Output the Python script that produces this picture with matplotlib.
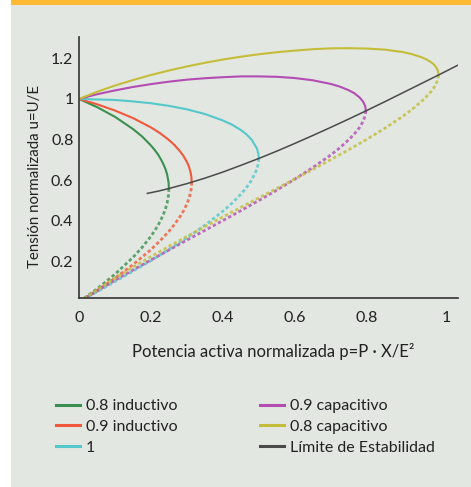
import matplotlib
matplotlib.use("Agg")
import matplotlib.pyplot as plt
from matplotlib.patches import Rectangle
from matplotlib.transforms import ScaledTranslation

plt.rcParams['font.family'] = ['Lato', 'DejaVu Sans']

# --- data: p (x) and u (y), upper branch solid, lower dashed ---
p_up_08ind = [0, 0.05, 0.1, 0.15, 0.175, 0.2, 0.21, 0.22, 0.228, 0.235, 0.241, 0.245, 0.249, 0.25]
u_up_08ind = [1.0, 0.960, 0.912, 0.852, 0.816, 0.771, 0.750, 0.726, 0.702, 0.678, 0.652, 0.629, 0.590, 0.559]
p_lo_08ind = [0.25, 0.249, 0.245, 0.241, 0.235, 0.228, 0.22, 0.21, 0.2, 0.175, 0.15, 0.1, 0.05, 0]
u_lo_08ind = [0.559, 0.527, 0.487, 0.462, 0.433, 0.406, 0.379, 0.350, 0.324, 0.268, 0.220, 0.137, 0.065, 0]

p_up_09ind = [0, 0.05, 0.1, 0.15, 0.2, 0.225, 0.25, 0.265, 0.28, 0.29, 0.3, 0.305, 0.31, 0.3125, 0.3134]
u_up_09ind = [1.0, 0.974, 0.943, 0.906, 0.860, 0.832, 0.798, 0.774, 0.744, 0.721, 0.690, 0.670, 0.641, 0.617, 0.590]
p_lo_09ind = [0.3134, 0.3125, 0.31, 0.305, 0.3, 0.29, 0.28, 0.265, 0.25, 0.225, 0.2, 0.15, 0.1, 0.05, 0]
u_lo_09ind = [0.590, 0.563, 0.537, 0.506, 0.483, 0.447, 0.418, 0.381, 0.348, 0.301, 0.258, 0.184, 0.118, 0.057, 0]

p_up_1 = [0, 0.1, 0.15, 0.2, 0.25, 0.3, 0.35, 0.4, 0.425, 0.45, 0.465, 0.48, 0.495, 0.499, 0.5]
u_up_1 = [1.0, 0.995, 0.988, 0.979, 0.966, 0.949, 0.926, 0.894, 0.874, 0.847, 0.827, 0.800, 0.755, 0.729, 0.707]
p_lo_1 = [0.5, 0.499, 0.495, 0.48, 0.465, 0.45, 0.425, 0.4, 0.35, 0.3, 0.25, 0.2, 0.15, 0.1, 0]
u_lo_1 = [0.707, 0.684, 0.655, 0.600, 0.562, 0.531, 0.486, 0.447, 0.378, 0.316, 0.259, 0.204, 0.152, 0.101, 0]

p_up_09cap = [0, 0.05, 0.1, 0.15, 0.2, 0.25, 0.3, 0.35, 0.4, 0.45, 0.5, 0.55, 0.6, 0.65,
              0.7, 0.725, 0.75, 0.765, 0.78, 0.79, 0.796, 0.7977]
u_up_09cap = [1.0, 1.023, 1.042, 1.059, 1.073, 1.085, 1.095, 1.102, 1.107, 1.111, 1.111, 1.109, 1.103, 1.092,
              1.074, 1.061, 1.043, 1.029, 1.008, 0.987, 0.964, 0.942]
p_lo_09cap = [0.7977, 0.796, 0.79, 0.78, 0.765, 0.75, 0.725, 0.7, 0.65, 0.6, 0.55, 0.5, 0.45,
              0.4, 0.35, 0.3, 0.25, 0.2, 0.15, 0.1, 0.05, 0]
u_lo_09cap = [0.942, 0.918, 0.889, 0.859, 0.826, 0.799, 0.759, 0.724, 0.662, 0.605, 0.551, 0.500, 0.450,
              0.401, 0.353, 0.305, 0.256, 0.207, 0.158, 0.107, 0.054, 0]

p_up_08cap = [0, 0.05, 0.1, 0.15, 0.2, 0.25, 0.3, 0.35, 0.4, 0.45, 0.5, 0.55, 0.6, 0.65, 0.7, 0.75,
              0.8, 0.85, 0.9, 0.925, 0.95, 0.965, 0.98, 0.99, 0.998, 1.0]
u_up_08cap = [1.0, 1.035, 1.066, 1.093, 1.118, 1.140, 1.160, 1.178, 1.194, 1.208, 1.220, 1.230, 1.238, 1.245, 1.249, 1.250,
              1.248, 1.243, 1.231, 1.221, 1.207, 1.196, 1.180, 1.164, 1.140, 1.118]
p_lo_08cap = [1.0, 0.998, 0.99, 0.98, 0.965, 0.95, 0.925, 0.9, 0.85, 0.8, 0.75, 0.7, 0.65, 0.6,
              0.55, 0.5, 0.45, 0.4, 0.35, 0.3, 0.25, 0.2, 0.15, 0.1, 0.05, 0]
u_lo_08cap = [1.118, 1.095, 1.064, 1.038, 1.009, 0.984, 0.947, 0.914, 0.855, 0.801, 0.750, 0.701, 0.653, 0.606,
              0.559, 0.513, 0.466, 0.419, 0.372, 0.323, 0.274, 0.224, 0.172, 0.117, 0.060, 0]

p_limit = [0.19, 0.22, 0.25, 0.3, 0.35, 0.4, 0.45, 0.5, 0.55, 0.6, 0.65, 0.7, 0.75,
           0.8, 0.85, 0.9, 0.95, 1.0, 1.07]
u_limit = [0.535, 0.546, 0.559, 0.583, 0.610, 0.640, 0.673, 0.707, 0.743, 0.781, 0.820, 0.860, 0.901,
           0.943, 0.986, 1.030, 1.074, 1.118, 1.181]

x_ticks = [0, 0.2, 0.4, 0.6, 0.8, 1]
x_ticklabels = ['0', '0.2', '0.4', '0.6', '0.8', '1']
y_ticks = [0.2, 0.4, 0.6, 0.8, 1, 1.2]
y_ticklabels = ['0.2', '0.4', '0.6', '0.8', '1', '1.2']

curves = [
    ('0.8 inductivo', '#3a9050', p_up_08ind, u_up_08ind, p_lo_08ind, u_lo_08ind),
    ('0.9 inductivo', '#f05a3a', p_up_09ind, u_up_09ind, p_lo_09ind, u_lo_09ind),
    ('1', '#55c8cb', p_up_1, u_up_1, p_lo_1, u_lo_1),
    ('0.9 capacitivo', '#b34db3', p_up_09cap, u_up_09cap, p_lo_09cap, u_lo_09cap),
    ('0.8 capacitivo', '#c4bd3a', p_up_08cap, u_up_08cap, p_lo_08cap, u_lo_08cap),
]

W, H = 471, 487
fig = plt.figure(figsize=(W / 100, H / 100), dpi=100, facecolor='white')

# panel background and top orange band
fig.patches.append(Rectangle((11 / W, 0), 1 - 11 / W, 1 - 5 / H, transform=fig.transFigure,
                             facecolor='#e2e7e1', edgecolor='none', zorder=-10))
fig.patches.append(Rectangle((11 / W, 1 - 5 / H), 1 - 11 / W, 5 / H, transform=fig.transFigure,
                             facecolor='#fdb933', edgecolor='none', zorder=-10))

ax = fig.add_axes([79 / W, 1 - 298 / H, (458 - 79) / W, (298 - 37) / H])
ax.set_facecolor('none')

for label, col, pu, uu, pl, ul in curves:
    ax.plot(pl, ul, color=col, lw=2.0, alpha=0.8, linestyle=(0, (1.2, 0.9)), solid_capstyle='butt')
for label, col, pu, uu, pl, ul in curves:
    ax.plot(pu, uu, color=col, lw=1.5, label=label)

ax.plot(p_limit, u_limit, color='#4a4a4a', lw=1.1, label='Límite de Estabilidad')

ax.set_xlim(0, 1.054)
ax.set_ylim(0.02, 1.305)

ax.set_xticks(x_ticks)
ax.set_xticklabels(x_ticklabels)
ax.set_yticks(y_ticks)
ax.set_yticklabels(y_ticklabels)
ax.tick_params(axis='both', length=0, labelsize=11.5, colors='#222222')
ax.tick_params(axis='x', pad=9)
ax.tick_params(axis='y', pad=4)

# the last x label sits a little to the right in the original
last = ax.get_xticklabels()[-1]
last.set_transform(last.get_transform() + ScaledTranslation(8 / 100, 0, fig.dpi_scale_trans))

for s in ['top', 'right']:
    ax.spines[s].set_visible(False)
for s in ['left', 'bottom']:
    ax.spines[s].set_color('#333333')
    ax.spines[s].set_linewidth(1.2)

ax.set_xlabel('Potencia activa normalizada p=P · X/E²', fontsize=12, color='#222222')
ax.xaxis.set_label_coords(0.512, -0.172)
ax.set_ylabel('Tensión normalizada u=U/E', fontsize=10.8, color='#222222')
ax.yaxis.set_label_coords(-0.098, 0.465)

leg = ax.legend(loc='upper left', bbox_to_anchor=(56 / W, 1 - 399 / H),
                bbox_transform=fig.transFigure, ncol=2, frameon=False,
                fontsize=11.5, borderpad=0, borderaxespad=0, handlelength=1.5,
                handletextpad=0.38, labelspacing=0.42, columnspacing=5.15)
for t in leg.get_texts():
    t.set_color('#222222')
for h in leg.get_lines():
    h.set_linewidth(2.2)

fig.savefig('out.png', dpi=100, facecolor=fig.get_facecolor())
